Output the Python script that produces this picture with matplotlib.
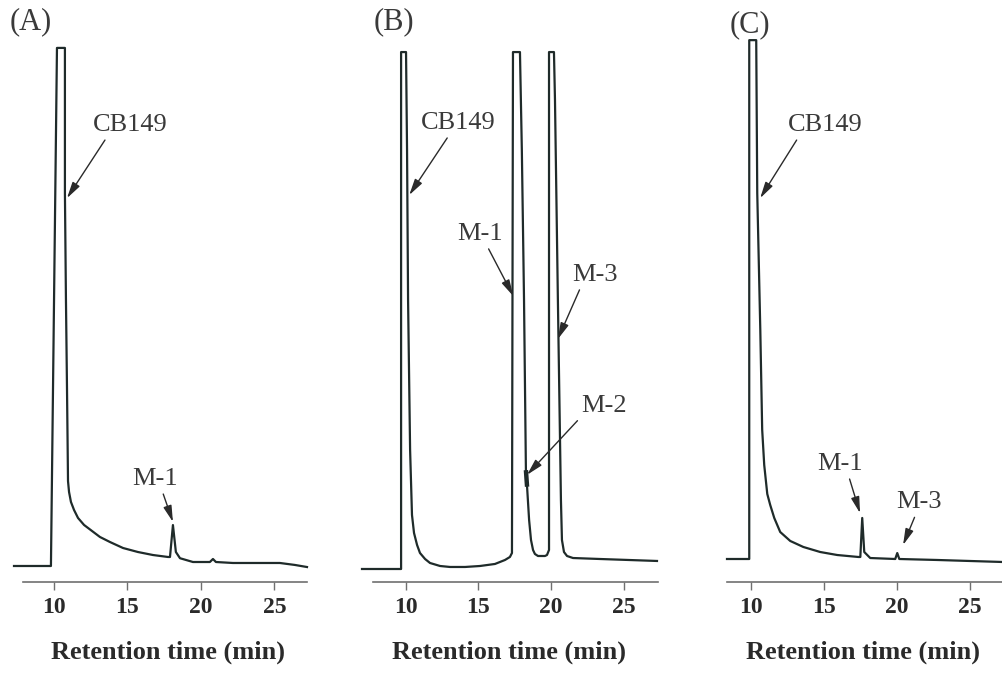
import numpy as np
import matplotlib
matplotlib.use("Agg")
import matplotlib.pyplot as plt

plt.rcParams['font.family'] = ['Liberation Serif', 'DejaVu Serif']

# chromatogram traces (retention time in min, detector signal, arbitrary units)
a_time = [7.31, 9.82, 10.23, 10.77, 10.77, 10.84, 10.91, 10.95, 10.98, 11.05, 11.18, 11.39,
          11.66, 12.07, 12.61, 13.15, 13.83, 14.72, 15.73, 16.75, 17.77, 17.91, 18.11, 18.31,
          18.59, 19.47, 20.62, 20.83, 21.03, 22.19, 25.38, 26.4, 27.22]
a_signal = [0, 0, 100, 100, 72.0, 51.4, 34.6, 24.3, 16.4, 14.29, 12.36, 10.81,
            9.27, 7.92, 6.76, 5.6, 4.63, 3.47, 2.7, 2.12, 1.74, 1.74, 7.9, 2.7,
            1.5, 0.77, 0.77, 1.35, 0.77, 0.58, 0.58, 0.2, -0.2]

b_time = [6.99, 9.68, 9.68, 10.02, 10.09, 10.16, 10.3, 10.43, 10.57, 10.78, 10.98, 11.33,
          11.67, 12.36, 13.05, 14.08, 15.11, 16.14, 16.83, 17.17, 17.31, 17.38, 17.86, 17.99,
          18.14, 18.27, 18.35, 18.49, 18.62, 18.76, 18.89, 19.1, 19.58, 19.72, 19.86, 19.86,
          20.2, 20.27, 20.47, 20.68, 20.75, 20.89, 21.1, 21.51, 23.37, 27.29]
b_signal = [-0.58, -0.58, 99.2, 99.2, 80.3, 51.4, 22.4, 9.85, 6.37, 4.05, 2.51, 1.35,
            0.58, 0, -0.19, -0.19, 0, 0.39, 1.16, 1.74, 2.51, 99.2, 99.2, 80.3,
            51.4, 18.5, 15.3, 8.88, 5.02, 3.09, 2.32, 1.93, 1.93, 2.12, 3.09, 99.2,
            99.2, 90.0, 51.4, 12.74, 5.02, 2.7, 1.93, 1.54, 1.35, 0.97]

c_time = [8.32, 9.85, 9.85, 10.33, 10.4, 10.61, 10.74, 10.88, 11.09, 11.29, 11.57, 11.98,
          12.67, 13.57, 14.73, 15.9, 17.35, 17.49, 17.62, 17.76, 18.17, 19.89, 20.03, 20.17,
          22.78, 27.3, 27.99]
c_signal = [1.35, 1.35, 101.5, 101.5, 72.0, 45.6, 26.3, 19.5, 13.9, 11.8, 9.27, 6.56,
            4.83, 3.67, 2.7, 2.12, 1.74, 1.74, 9.27, 2.7, 1.54, 1.35, 2.5, 1.35,
            1.16, 0.77, 0.77]

# M-2 shoulder on the tail of M-1 in panel B
m2_range = (18.27, 18.35)

panel_names = ['(A)', '(B)', '(C)']
tick_values = [10, 15, 20, 25]

# annotations: label, text position, arrow tip, start point along text bottom
a_notes = [('CB149', (15.19, 85.1), (10.91, 71.0), 0.2),
           ('M-1', (16.89, 16.8), (18.11, 8.5), 0.65)]
b_notes = [('CB149', (13.6, 85.5), (10.24, 71.6), 0.39),
           ('M-1', (15.12, 64.1), (17.4, 52.1), 0.64),
           ('M-3', (23.02, 56.2), (20.47, 43.8), 0.2),
           ('M-2', (23.63, 30.9), (18.35, 17.6), 0.0)]
c_notes = [('CB149', (15.08, 85.1), (10.6, 71.0), 0.15),
           ('M-1', (16.1, 19.7), (17.47, 10.2), 0.68),
           ('M-3', (21.49, 12.3), (20.43, 4.05), 0.45)]

W, H = 1003, 674
fig = plt.figure(figsize=(W / 100, H / 100), dpi=100)

# pixel layout of each panel: (left px, right px, xlim, spine bounds, label x, label centre px)
layout = [
    (14, 307, (7.31, 27.22), (7.95, 27.22), 168, (31, 22)),
    (362, 658, (6.99, 27.36), (7.75, 27.36), 509, (394, 22)),
    (727, 1013, (8.32, 27.99), (8.32, 27.99), 863, (750, 25)),
]
traces = [(a_time, a_signal), (b_time, b_signal), (c_time, c_signal)]
notes = [a_notes, b_notes, c_notes]

line_col = '#1f2b2a'
text_col = '#3a3a3a'
axis_col = '#707070'
bottom_px, top_px = 582, 36

for i, (left, right, xlim, bounds, lab_x, name_pos) in enumerate(layout):
    ax = fig.add_axes([left / W, (H - bottom_px) / H, (right - left) / W,
                       (bottom_px - top_px) / H])
    t, s = traces[i]
    ax.plot(t, s, color=line_col, lw=1.6, clip_on=False)
    if i == 1:
        tt = np.array(t)
        ss = np.array(s)
        sel = (tt >= m2_range[0]) & (tt <= m2_range[1])
        ax.plot(tt[sel], ss[sel], color=line_col, lw=3.2, solid_capstyle='butt')

    ax.set_xlim(*xlim)
    ax.set_ylim(-3.09, 102.3)
    for sp in ['top', 'right', 'left']:
        ax.spines[sp].set_visible(False)
    ax.spines['bottom'].set_bounds(*bounds)
    ax.spines['bottom'].set_color(axis_col)
    ax.spines['bottom'].set_linewidth(1.2)
    ax.set_yticks([])
    ax.set_xticks(tick_values)
    ax.tick_params(axis='x', direction='out', length=5.8, width=1.0, color=axis_col,
                   pad=5, labelsize=17, labelcolor='#2a2a2a')
    for lab in ax.get_xticklabels():
        lab.set_fontweight('bold')
    ax.patch.set_visible(False)

    ax.set_xlabel('Retention time (min)', fontsize=19, fontweight='bold', color='#2a2a2a')
    ax.xaxis.set_label_coords((lab_x - left) / (right - left), -0.108)

    for label, xy_text, xy_tip, rx in notes[i]:
        ax.annotate(label, xy=xy_tip, xytext=xy_text, ha='center', va='center',
                    fontsize=19, color=text_col,
                    arrowprops=dict(arrowstyle='-|>,head_length=0.7,head_width=0.18',
                                    mutation_scale=14, color='#2a2a2a', lw=1.0,
                                    shrinkA=1, shrinkB=0, relpos=(rx, 0)))

    fig.text(name_pos[0] / W, 1 - name_pos[1] / H, panel_names[i], ha='center',
             va='center', fontsize=22, color=text_col)

fig.savefig('out.png', dpi=100)
